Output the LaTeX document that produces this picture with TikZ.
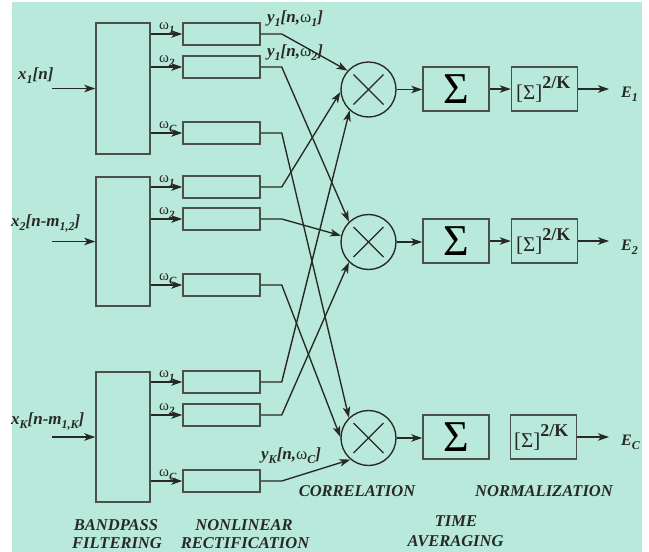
\documentclass[tikz,border=0pt]{standalone}
\usepackage{fontspec}
\setmainfont{Liberation Serif}
\usetikzlibrary{arrows.meta}
\definecolor{bg}{RGB}{184,233,218}
\definecolor{ln}{RGB}{40,40,40}
\definecolor{bx}{RGB}{75,80,78}
\newcommand\lsub[1]{\raisebox{-0.28em}{\fontsize{12}{12}\selectfont #1}}
\newcommand\wsub[1]{\raisebox{-0.3em}{\fontsize{11}{11}\selectfont #1}}
\newcommand\om{{\mdseries\upshape ω}}
\begin{document}
\begin{tikzpicture}[x=1pt,y=-1pt,
  ln/.style={draw=ln, line width=1.35pt},
  arr/.style={ln, -{Stealth[length=11pt,width=7.5pt,inset=3pt]}},
  fbox/.style={draw=bx, line width=1.5pt, minimum width=54pt, inner sep=0},
  rbox/.style={draw=bx, line width=1.5pt, minimum width=77pt, minimum height=22pt, inner sep=0},
  mult/.style={circle, draw=ln, line width=1.35pt, minimum size=55pt, inner sep=0},
  sbox/.style={draw=bx, line width=1.5pt, minimum width=66pt, minimum height=44pt, inner sep=0,
               font=\fontsize{44}{44}\selectfont},
  lab/.style={inner sep=0, anchor=base, text=ln, font=\fontsize{16.5}{19}\selectfont\bfseries\itshape},
  ilab/.style={inner sep=0, anchor=base west, text=ln, font=\fontsize{17}{19}\selectfont\bfseries\itshape},
  elab/.style={inner sep=0, anchor=base west, text=ln, font=\fontsize{16}{16}\selectfont\bfseries\itshape},
  wl/.style={inner sep=0, anchor=base west, text=ln, font=\fontsize{15}{15}\selectfont\bfseries\itshape},
  ntext/.style={inner sep=0, anchor=base west, text=ln},
]
\useasboundingbox (0,0) rectangle (649,552);
\fill[bg] (12,2) rectangle (642,552);

% bandpass filters
\node[fbox, minimum height=131pt] (F1) at (123,88.5) {};
\node[fbox, minimum height=129pt] (F2) at (123,241.5) {};
\node[fbox, minimum height=130pt] (F3) at (123,437) {};

% inputs
\coordinate (I1) at (52,88.5);
\coordinate (I2) at (52,241.5);
\coordinate (I3) at (52,437);
\draw[arr] (I1) -- (F1.west);
\draw[arr] (I2) -- (F2.west);
\draw[arr] (I3) -- (F3.west);
\node[ilab] (X1) at (18,79) {x\lsub{1}[n]};
\node[ilab] (X2) at (11,226) {x\lsub{2}[n-m\lsub{1,2}]};
\node[ilab] (X3) at (11,424) {x\lsub{K}[n-m\lsub{1,K}]};

% rectifiers
\foreach \f/\n/\y/\w in {1/a/34/1, 1/b/67/2, 1/c/133/C, 2/a/187/1, 2/b/219/2, 2/c/285/C, 3/a/382/1, 3/b/415/2, 3/c/481/C} {
  \node[rbox] (R\f\n) at (221.5,\y) {};
  \draw[arr] (F\f.east |- R\f\n.west) -- (R\f\n.west);
  \node[wl] (W\f\n) at (159,\y-5) {\om\wsub{\w}};
}

% multipliers
\node[mult] (M1) at (368.5,89.5) {};
\node[mult] (M2) at (368.5,242) {};
\node[mult] (M3) at (368.5,438) {};
\foreach \m in {M1,M2,M3} {
  \draw[ln] ([shift={(-15pt,-15pt)}]\m.center) -- ([shift={(15pt,15pt)}]\m.center);
  \draw[ln] ([shift={(-15pt,15pt)}]\m.center) -- ([shift={(15pt,-15pt)}]\m.center);
}

% cross connections
\draw[arr] (R1a.east) -- ++(21,0) -- (M1.138);
\draw[arr] (R2a.east) -- ++(21,0) -- (M1.185);
\draw[arr] (R3a.east) -- ++(21,0) -- (M1.228);
\draw[arr] (R1b.east) -- ++(21,0) -- (M2.134);
\draw[arr] (R2b.east) -- ++(21,0) -- (M2.167);
\draw[arr] (R3b.east) -- ++(21,0) -- (M2.226);
\draw[arr] (R1c.east) -- ++(21,0) -- (M3.134);
\draw[arr] (R2c.east) -- ++(21,0) -- (M3.178);
\draw[arr] (R3c.east) -- ++(21,0) -- (M3.230);

\node[ilab] (Y1) at (267,22) {y\lsub{1}[n,\om\lsub{1}]};
\node[ilab] (Y2) at (267,56) {y\lsub{1}[n,\om\lsub{2}]};
\node[ilab] (Y3) at (261,459) {y\lsub{K}[n,\om\lsub{C}]};

% time averaging
\node[sbox] (S1) at (456,89) {Σ};
\node[sbox] (S2) at (456,241) {Σ};
\node[sbox] (S3) at (456,437) {Σ};
\draw[arr] (M1.east) -- (M1.east -| S1.west);
\draw[arr] (M2.east) -- (M2.east -| S2.west);
\draw[arr] (M3.east) -- (M3.east -| S3.west);

% normalization
\node[sbox] (N1) at (544.5,89) {};
\node[sbox] (N2) at (544.5,241) {};
\node[sbox] (N3) at (543.5,437) {};
\draw[arr] (S1.east) -- (N1.west);
\draw[arr] (S2.east) -- (N2.west);
\node[ntext] (T1) at (516,99) {{\fontsize{21}{21}\selectfont[Σ]}\raisebox{11pt}{\fontsize{18}{18}\selectfont\bfseries 2/K}};
\node[ntext] (T2) at (516,251) {{\fontsize{21}{21}\selectfont[Σ]}\raisebox{11pt}{\fontsize{18}{18}\selectfont\bfseries 2/K}};
\node[ntext] (T3) at (514,447) {{\fontsize{21}{21}\selectfont[Σ]}\raisebox{11pt}{\fontsize{18}{18}\selectfont\bfseries 2/K}};

% outputs
\coordinate (O1) at (609,89);
\coordinate (O2) at (609,241);
\coordinate (O3) at (609,437);
\draw[arr] (N1.east) -- (O1);
\draw[arr] (N2.east) -- (O2);
\draw[arr] (N3.east) -- (O3);
\node[elab] (E1) at (621,97) {E\lsub{1}};
\node[elab] (E2) at (621,250) {E\lsub{2}};
\node[elab] (E3) at (621,445) {E\lsub{C}};

% stage captions
\node[lab] (L1) at (116,530) {BANDPASS};
\node[lab] (L2) at (117,548) {FILTERING};
\node[lab] (L3) at (244,530) {NONLINEAR};
\node[lab] (L4) at (245,548) {RECTIFICATION};
\node[lab] (L5) at (357,496) {CORRELATION};
\node[lab] (L6) at (456,526) {TIME};
\node[lab] (L7) at (455.5,546) {AVERAGING};
\node[lab] (L8) at (544,496) {NORMALIZATION};
\end{tikzpicture}
\end{document}
